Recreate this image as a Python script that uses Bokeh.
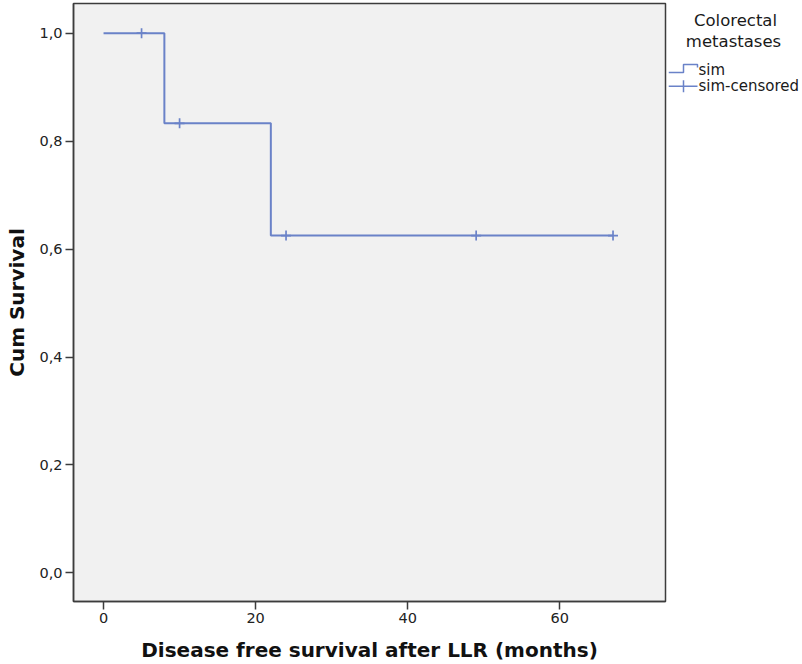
from bokeh.plotting import figure
from bokeh.layouts import row
from bokeh.models import Range1d, FixedTicker, CustomJSTickFormatter
from bokeh.core.properties import value
from bokeh.embed import file_html
from bokeh.resources import INLINE

# Kaplan-Meier estimate: step times (months) and cumulative survival after each step
step_times = [0, 8, 22, 67]
step_surv = [1.0, 0.833, 0.625, 0.625]

# censored observations
censor_times = [5, 10, 24, 49, 67]
censor_surv = [1.0, 0.833, 0.625, 0.625, 0.625]

x_ticks = [0, 20, 40, 60]
y_ticks = [0.0, 0.2, 0.4, 0.6, 0.8, 1.0]

x_title = "Disease free survival after LLR (months)"
y_title = "Cum Survival"
legend_title = ["Colorectal", "metastases"]
legend_labels = ["sim", "sim-censored"]

LINE = "#6a82c8"
FONT = "DejaVu Sans"

p = figure(width=668, height=664, output_backend="svg", toolbar_location=None,
           x_range=Range1d(-3.95, 73.9), y_range=Range1d(-0.053, 1.055),
           min_border_left=73, min_border_right=3, min_border_top=3, min_border_bottom=62)
p.background_fill_color = "#f1f1f1"
p.border_fill_color = "white"
p.outline_line_color = "#3c3c3c"
p.outline_line_width = 1.5
p.xgrid.visible = False
p.ygrid.visible = False

p.step(step_times, step_surv, mode="after", line_color=LINE, line_width=2)
p.scatter(censor_times, censor_surv, marker="cross", size=10,
          line_color=LINE, line_width=1.7)

for ax in (p.xaxis[0], p.yaxis[0]):
    ax.axis_line_color = "#3c3c3c"
    ax.axis_line_width = 1.5
    ax.major_tick_line_color = "#3c3c3c"
    ax.major_tick_line_width = 1.5
    ax.major_tick_out = 8
    ax.major_tick_in = 0
    ax.minor_tick_line_color = None
    ax.major_label_text_font = FONT
    ax.major_label_text_font_size = "14.5px"
    ax.major_label_text_color = "#222222"
    ax.axis_label_text_font = FONT
    ax.axis_label_text_font_style = "bold"
    ax.axis_label_text_font_size = "20px"
    ax.axis_label_text_color = "#111111"

p.xaxis.ticker = FixedTicker(ticks=x_ticks)
p.yaxis.ticker = FixedTicker(ticks=y_ticks)
p.yaxis.formatter = CustomJSTickFormatter(code="return tick.toFixed(1).replace('.', ',');")
p.xaxis.major_label_standoff = 3
p.yaxis.major_label_standoff = 3
p.xaxis.axis_label = x_title
p.yaxis.axis_label = y_title
p.xaxis.axis_label_standoff = 12
p.yaxis.axis_label_standoff = 7

# legend panel; its frame spans the same rows as the plot frame,
# and the y range is set so that data units equal page pixels
lg = figure(width=134, height=664, output_backend="svg", toolbar_location=None,
            x_range=Range1d(0, 134), y_range=Range1d(602, 3),
            x_axis_location=None, y_axis_location=None,
            min_border_left=0, min_border_right=0,
            min_border_top=3, min_border_bottom=62, outline_line_color=None)
lg.xgrid.visible = False
lg.ygrid.visible = False
lg.background_fill_color = "white"
lg.border_fill_color = "white"

lg.text(x=[67, 65], y=[20, 41], text=legend_title, text_font=value(FONT),
        text_font_size="16.5px", text_align="center", text_baseline="middle",
        text_color="#1a1a1a")
lg.text(x=[30, 30], y=[70, 86], text=legend_labels, text_font=value(FONT),
        text_font_size="15px", text_align="left", text_baseline="middle",
        text_color="#1a1a1a")

# step icon for the survival line
lg.line(x=[0, 15, 15, 29, 29], y=[72, 72, 64, 64, 67], line_color=LINE, line_width=1.5)
# cross icon for censored cases
lg.line(x=[0, 29], y=[86, 86], line_color=LINE, line_width=1.5)
lg.line(x=[15, 15], y=[80, 92], line_color=LINE, line_width=1.5)

layout = row(p, lg, spacing=0)
open("out.html", "w").write(file_html(layout, INLINE))
